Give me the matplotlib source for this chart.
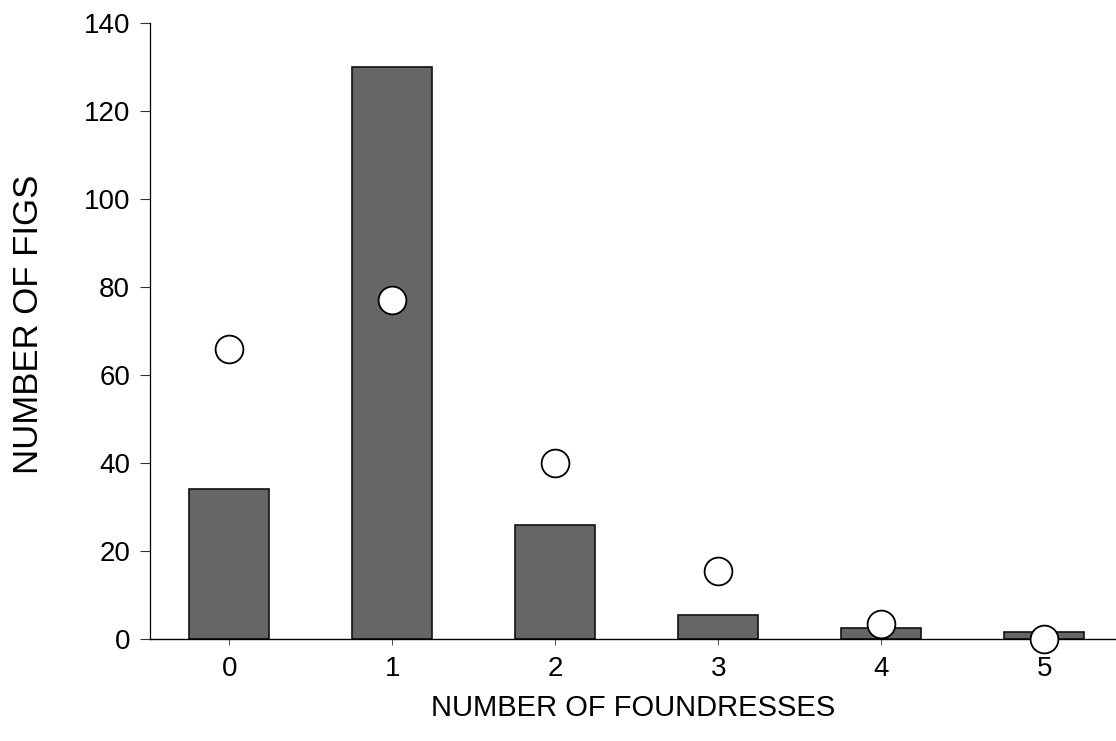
import matplotlib
matplotlib.use("Agg")
import matplotlib.pyplot as plt

foundresses = [0, 1, 2, 3, 4, 5]
observed_figs = [34, 130, 26, 5.5, 2.5, 1.5]
expected_figs = [66, 77, 40, 15.5, 3.5, 0]
y_ticks = [0, 20, 40, 60, 80, 100, 120, 140]

plt.rcParams["font.family"] = ["Liberation Sans", "DejaVu Sans"]

fig = plt.figure(figsize=(11.16, 7.41), dpi=100)
ax = fig.add_axes([0.134, 0.1377, 0.866, 0.8313])

ax.bar(foundresses, observed_figs, width=0.49, color="#666666",
       edgecolor="#111111", linewidth=1.2, zorder=2)
ax.plot(foundresses, expected_figs, "o", ms=20, mfc="white", mec="black",
        mew=1.3, zorder=3, clip_on=False)

ax.set_xlim(-0.49, 5.44)
ax.set_ylim(0, 140)
ax.set_xticks(foundresses)
ax.set_yticks(y_ticks)
ax.tick_params(axis="both", labelsize=20, color="#333333")
ax.tick_params(axis="y", length=7, width=0.8, pad=7)
ax.tick_params(axis="x", length=4, width=0.6, pad=8)
for side in ("top", "right"):
    ax.spines[side].set_visible(False)
ax.spines["left"].set_linewidth(0.9)
ax.spines["bottom"].set_linewidth(1.0)

ax.set_xlabel("NUMBER OF FOUNDRESSES", fontsize=21, labelpad=9)
ax.set_ylabel("NUMBER OF FIGS", fontsize=25, labelpad=27)
ax.yaxis.set_label_coords(-0.108, 0.51)

fig.savefig("out.png", dpi=100)
